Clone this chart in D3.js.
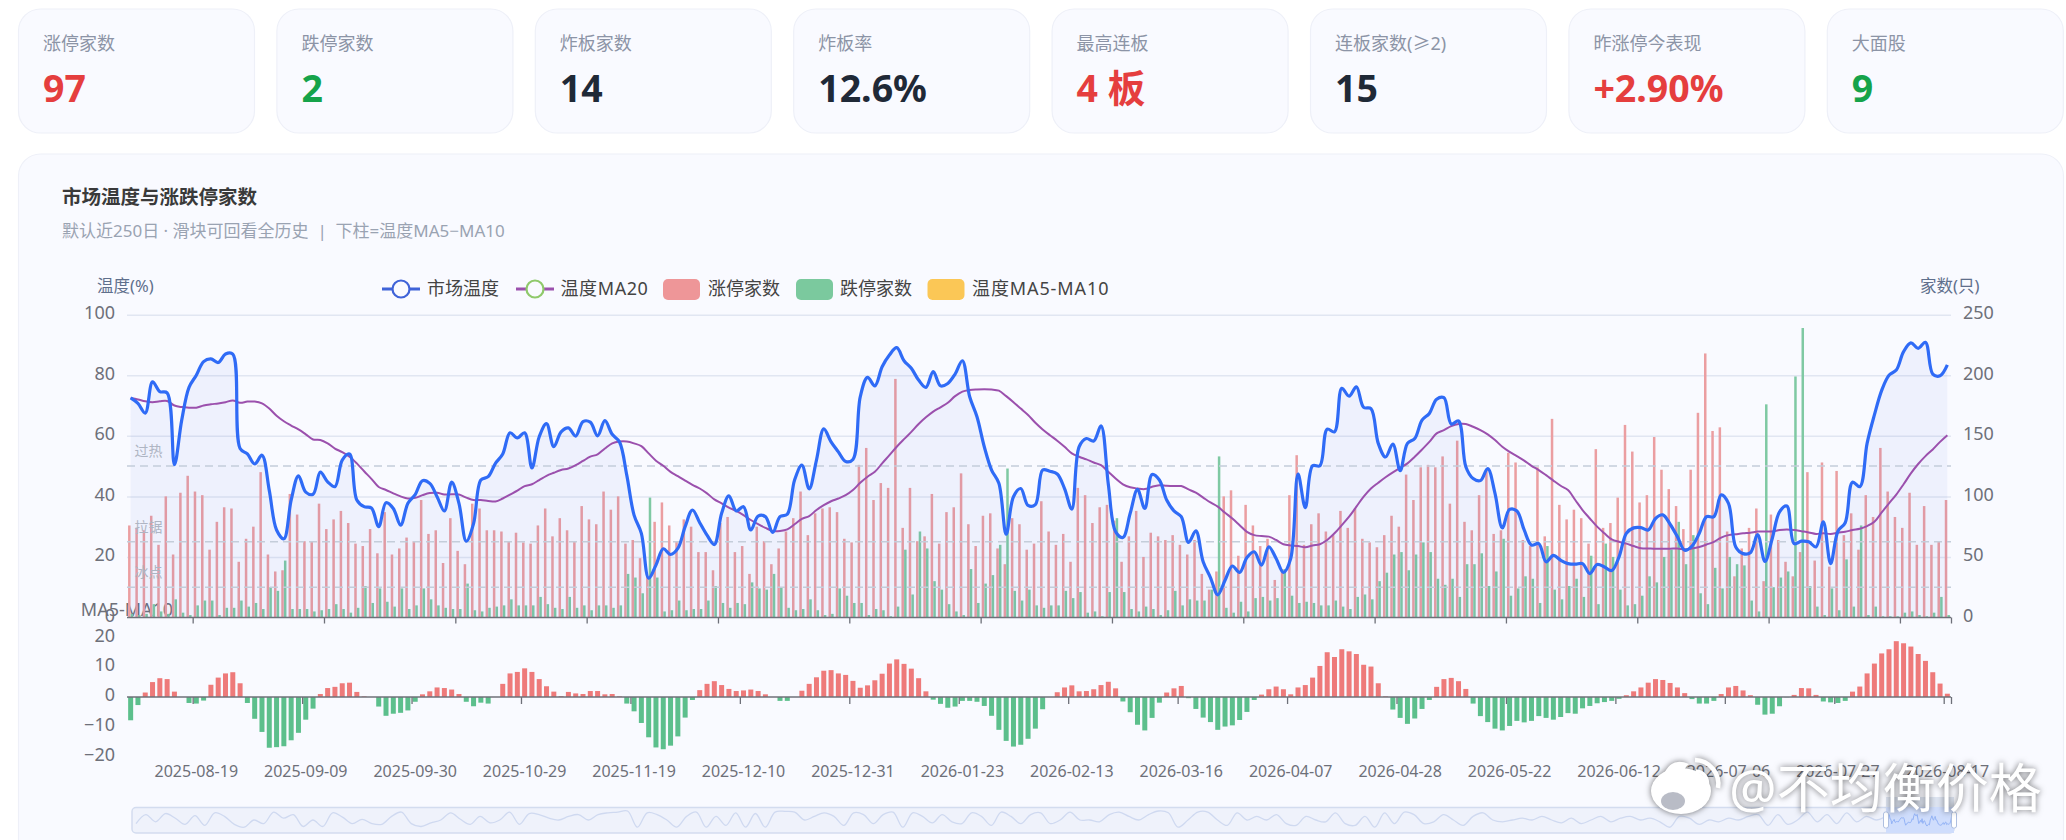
<!DOCTYPE html>
<html>
<head>
<meta charset="utf-8">
<title>市场温度与涨跌停家数</title>
<script src="https://cdnjs.cloudflare.com/ajax/libs/d3/7.8.5/d3.min.js"></script>
<style>
html, body { margin: 0; padding: 0; background: #fff; overflow: hidden; }
svg text { font-family: "Noto Sans", "Noto Sans CJK SC", sans-serif; }
.domain { display: none; }
</style>
</head>
<body>
<div id="chart"></div>
<script>
// top cards
var cardLabels = ["涨停家数", "跌停家数", "炸板家数", "炸板率", "最高连板", "连板家数(≥2)", "昨涨停今表现", "大面股"];
var cardValues = ["97", "2", "14", "12.6%", "4 板", "15", "+2.90%", "9"];
var cardKinds = ["up", "down", "flat", "flat", "up", "flat", "up", "down"];

// date labels of the lower axis, one every 15 sessions from session 9
var dateLabels = ["2025-08-19", "2025-09-09", "2025-09-30", "2025-10-29", "2025-11-19", "2025-12-10", "2025-12-31", "2026-01-23", "2026-02-13", "2026-03-16", "2026-04-07", "2026-04-28", "2026-05-22", "2026-06-12", "2026-07-06", "2026-07-27", "2026-08-17"];
var tempTicks = [0, 20, 40, 60, 80, 100];
var countTicks = [0, 50, 100, 150, 200, 250];
var histTicks = [-20, -10, 0, 10, 20];
var zones = [{ name: "过热", value: 50 }, { name: "拉锯", value: 25 }, { name: "冰点", value: 10 }];

var limitUp = [
  76,74,72,84,60,100,52,103,117,104,
  101,56,79,91,90,46,65,75,120,52,
  38,39,102,85,63,63,94,73,81,88,
  78,61,59,73,53,87,52,57,66,63,
  97,69,72,45,82,55,44,94,90,72,
  72,71,63,70,62,61,76,90,67,82,
  72,63,92,81,77,104,89,100,61,64,
  49,34,79,95,76,63,81,75,54,54,
  39,78,83,54,59,36,75,63,44,57,
  71,82,104,68,86,90,91,87,65,62,
  126,140,97,111,107,197,74,107,63,67,
  102,61,87,91,119,77,59,84,86,57,
  44,82,77,56,61,96,71,60,69,46,
  107,101,78,91,93,80,46,67,88,50,
  70,67,64,68,60,52,64,36,23,38,
  100,105,51,93,76,59,65,31,40,101,
  134,60,77,86,71,68,88,74,90,65,
  62,58,68,84,75,118,97,124,126,124,
  133,94,146,79,72,101,122,69,72,136,
  128,64,59,124,67,164,93,81,89,82,
  61,139,74,78,99,159,137,95,101,149,
  122,106,92,73,122,169,218,154,157,71,
  34,57,74,90,30,85,64,46,34,54,
  120,47,128,42,121,68,86,56,101,83,
  140,104,83,74,103,60,92,60,63,97];

var limitDown = [
  3,2,3,11,5,3,15,4,2,10,
  14,14,2,8,8,14,9,12,7,25,
  22,47,7,7,7,5,6,7,11,7,
  4,8,26,12,24,13,9,24,7,10,
  24,15,10,8,7,7,28,6,5,8,
  9,10,15,10,10,10,17,11,8,7,
  17,8,10,6,10,10,8,10,36,33,
  20,99,33,5,6,14,6,7,7,14,
  26,12,8,12,11,29,24,23,36,25,
  8,6,7,15,6,2,3,24,18,12,
  12,2,7,6,1,9,56,19,71,57,
  30,23,11,5,2,40,12,28,35,60,
  123,22,14,23,10,8,10,10,22,16,
  21,4,5,1,21,82,21,7,5,9,
  7,2,6,22,10,15,14,14,23,133,
  8,4,13,5,16,17,14,16,40,18,
  12,13,12,10,10,14,9,7,17,19,
  15,30,37,52,54,39,52,62,54,32,
  27,32,17,44,44,53,26,38,65,18,
  24,34,32,12,59,23,15,26,32,17,
  51,11,61,50,23,10,11,18,34,29,
  50,56,79,44,68,20,11,41,24,50,
  44,43,14,5,176,25,33,38,199,239,
  26,9,2,24,6,48,9,76,2,9,
  1,1,1,4,5,2,1,4,17,2];

var temp = [
  72.5,70.7,67.5,77.8,74.6,74.2,50.5,65.2,76,80,
  84.5,85.4,84.2,87,87,55.8,54,50.7,53.6,42,
  28.9,26,38.8,46.8,41.4,40.7,48,44.8,43.2,52,
  54,38.8,36.6,36.2,30,37.9,36,30.5,37.7,40.6,
  45.2,44.3,39.9,35.2,44.7,37.7,25.2,31,45.4,46.5,
  50.9,54,61,59.3,61,49.4,59.7,64,56.4,61.3,
  62.6,59.9,64.7,64.5,60,65,60.5,58,47,33.8,
  27.8,13,17.3,22.7,20.8,22.8,30,35.5,31.3,27.2,
  24.1,34.4,40.2,35.2,36.6,28.9,33.5,33.3,28.1,33.3,
  34.1,45.4,50.3,42.5,52,62.3,58,54.7,51.5,52.2,
  72.9,79.3,76.5,82.8,86.7,89.1,84.8,82.3,78.4,76,
  81.2,76.5,77.3,80.4,84.8,72.9,66.3,56.4,48.7,44.3,
  27.5,39.9,42.6,37,37.3,48.7,48.3,47.4,42.6,35.8,
  56.4,59.1,58.3,63.3,44,28.3,26.4,34.4,42.3,36,
  47.2,45.4,38.8,35.2,33.3,24.8,28.6,18.4,13.2,7.5,
  12.3,17,14.9,19.8,21.7,17.3,23.3,19.5,14.9,19.5,
  47.4,36.3,50.1,50.1,62.2,61.3,75.7,73.1,76.2,69.4,
  69,57.5,53,57.3,48.5,57.5,59.1,65.2,67.4,72.1,
  72.6,63.9,64.9,49.8,45.9,45.2,49.2,41,29.6,35.7,
  35.2,28.9,23.9,24.4,18.4,20.5,18.9,17.8,17.6,17.8,
  14.5,17.5,16.7,15.5,20,27.8,29.6,29.7,28.9,32.7,
  33.9,30.8,26.7,22.2,23.6,27.8,33.3,33.3,40.5,37.7,
  23.3,21.1,21.4,27.4,18.5,26.1,34.9,36.8,24.4,25.2,
  25,23.3,31.6,17.8,28.5,31.3,44.7,43.2,57.5,66.9,
  75,80,81.7,87.8,90.7,88.9,90.9,80.4,79.8,83.4];

var tempMa20 = [
  72.5,72,71.4,71.1,71.4,71.5,70,69.5,69.3,69.3,
  70,70.4,70.7,71.1,71.7,70.9,71.3,71.3,70.7,69,
  66.6,64.8,63.4,62.1,60.5,58.8,58.6,57.5,55.8,54.6,
  53.1,50.9,48.3,45.8,43.1,42.1,41,40,39.3,39.5,
  40.4,41.1,41.2,40.6,40.7,40.6,39.6,38.8,38.8,38.5,
  38.3,39.3,40.6,41.9,43.4,44,45.4,46.8,47.8,48.7,
  49.2,50.3,51.7,53.1,53.9,55.8,57.5,58.1,58.1,57.5,
  56.6,54.2,51.8,50.1,48.1,46.7,45.2,43.8,42.6,41,
  39,37.7,36.3,35.2,33.8,32.2,30.8,29.6,28.6,28.6,
  29.1,30.8,32.6,33.5,35.5,37.1,38.4,39.3,40.4,42.1,
  44.5,46.5,48.1,50.9,53.6,56.4,58.9,61.3,63.9,66.1,
  68,69.4,70.9,73.1,74.6,75.1,75.3,75.4,75.3,74.9,
  73.1,71.1,69,66.9,64.3,62.1,60.2,58.4,56.4,54.2,
  53.1,52.2,51.2,50.3,48.1,45.9,44,43,42.6,42.4,
  43.2,43.7,43.5,43.4,43.4,42.3,41.2,39.6,38,36.6,
  34.6,32.7,30.5,28.3,27.2,26.9,26.7,25.6,24.2,23.8,
  23.6,23.2,23.8,24.2,25.6,27.8,30.5,33.3,36.6,39.9,
  42.6,44.5,46.3,47.9,49.4,50.9,53.1,55.5,58,60.8,
  61.9,63.2,63.9,63.9,63,61.9,60.5,58.6,56.4,54.7,
  53.3,51.8,50.1,48.7,47,45.2,43.5,42.1,38.8,35.5,
  32.7,30,27.8,25.8,25,24.4,23.6,22.9,22.8,22.7,
  22.7,22.7,22.8,22.5,22.8,23.3,24.1,25,26.4,27.2,
  27.5,27.8,28,28.4,28.4,28.4,28.9,29.1,28.9,28.5,
  28.1,27.6,27.8,27.6,28,28.3,28.9,29.3,30.2,31.6,
  34.7,37.7,40.6,44,47.6,50.7,53.3,55.5,58,60.2];

var maDiff = [
  -7.8,-2.7,1.5,5,6.3,6,1.8,0,-2,-2.2,
  -1.2,4.1,6.5,7.9,8.3,4.6,-2,-7.3,-11.7,-17,
  -16.8,-16.5,-14.5,-12,-7.6,-3.9,1,3,3.4,4.6,
  4.8,1.7,0.2,0,-3.2,-6.3,-5.6,-5.3,-4.5,-1.6,
  0.9,1.9,3.2,3,2.5,1,-1.6,-3.1,-1.9,-2.2,
  0,4.4,7.9,8.4,9.6,8.4,6,3.6,1.8,0.3,
  1.7,1.2,1,2,2,0.9,1,0.2,-2.2,-4.8,
  -8.7,-13.5,-16.9,-17.5,-16.3,-13.2,-6.9,-1,2.3,4.4,
  5.3,4,2.7,2,2.2,2.5,2,0.9,0,-1.3,
  -1.3,0,2.1,4.4,6.6,8.8,9,7.9,7.4,5.4,
  3.1,3.9,5.6,7.8,11.2,12.6,11.1,9.5,6.3,1.9,
  -0.9,-2.3,-3.6,-3.2,-1.3,-1.3,-1.6,-3,-6.3,-11,
  -14.7,-16.6,-16,-14,-10.6,-4.1,0,1.6,3.2,3.9,
  1.9,2,2.6,4,5.1,2.9,-1.5,-5.1,-9.3,-11.2,
  -7,-1.9,1.5,2.9,3.7,-0.4,-4,-6.9,-8.4,-11,
  -9.9,-9.5,-7.7,-5,-1,0.8,2.6,3.5,2.6,0.9,
  3.2,4,6.5,10.4,15,13.4,16,15.3,14.4,10.8,
  10.2,4.6,0.2,-4.2,-7,-9,-7.2,-4,-1,3.4,
  6,6.4,5.3,2.7,-2.2,-6.4,-8.4,-10.6,-11.2,-9.7,
  -8,-8.5,-8,-6.4,-7,-7.6,-6.7,-5.4,-5.6,-3.8,
  -3,-2.1,-1.7,-1.3,-0.6,0.6,1.9,3.2,4.8,6,
  5.7,4.7,3.2,1.3,-0.7,-2.2,-2.2,-1.3,1,3.2,
  3.7,2.2,0.6,-2.6,-5.9,-5.6,-3.1,-0.1,0.7,3,
  2.9,0.7,-1.5,-1.8,-2,-1.3,1.8,3.5,7.9,11.2,
  14.6,16,18.7,18,16.9,14.4,12.1,8.3,4.5,1.1];

// full history under the slider, read at a coarse step
var sliderHistory = [
  30,80,40,86,60,26,74,20,90,70,26,10,50,30,94,60,80,14,50,14,90,66,30,54,30,26,70,94,30,14,34,50,90,54,26,70,34,50,94,26,86,80,60,50,70,80,50,
  80,90,94,100,10,90,80,50,10,70,94,10,70,20,90,10,86,10,94,98,94,50,70,90,70,20,90,80,30,80,94,10,90,70,34,80,40,30,90,70,20,94,70,30,80,90,30,50,94,50,
  50,40,80,94,70,50,80,100,90,10,50,94,94,50,20,90,50,70,50,80,30,20,70,50,40,90,30,20,70,10,90,30,94,80,30,40,80,50,20,70,90,50,40,50,60,50,70,50,34,60,
  30,50,70,40,60,70,50,60,40,10,70,60,26,50,40,60,50,70,80,20,80,26,50,94,40,80,30,90,40,70,50,70];

var sessions = d3.range(temp.length);
var left = 127, right = 1951;

var svg = d3.select("#chart").append("svg").attr("width", 2066).attr("height", 840);

// cards
var cardColor = { up: "#e53e3e", down: "#16a34a", flat: "#1f2937" };
var card = svg.selectAll("g.card").data(cardLabels).enter().append("g").attr("class", "card")
  .attr("transform", function (d, i) { return "translate(" + (18.5 + 258.4 * i) + ",9)"; });
card.append("rect").attr("width", 236).attr("height", 124).attr("rx", 22)
  .attr("fill", "#f9faff").attr("stroke", "#eef0f8").attr("stroke-width", 1.2);
card.append("text").attr("x", 24.5).attr("y", 41).attr("font-size", 18).attr("fill", "#8c94a6").text(function (d) { return d; });
card.append("text").attr("x", 24.5).attr("y", 92.5).attr("font-size", 37.5).attr("font-weight", 700)
  .attr("fill", function (d, i) { return cardColor[cardKinds[i]]; })
  .text(function (d, i) { return cardValues[i]; });

// chart panel
svg.append("rect").attr("x", 18.5).attr("y", 154).attr("width", 2045).attr("height", 720).attr("rx", 22)
  .attr("fill", "#f9faff").attr("stroke", "#eef0f8").attr("stroke-width", 1.2);
svg.append("text").attr("x", 62).attr("y", 204).attr("font-size", 19.5).attr("font-weight", 700).attr("fill", "#3a3a3a").text("市场温度与涨跌停家数");
svg.append("text").attr("x", 62).attr("y", 237).attr("font-size", 17).attr("fill", "#9aa3b2").text("默认近250日 · 滑块可回看全历史\u00a0\u00a0|\u00a0\u00a0下柱=温度MA5−MA10");
svg.append("text").attr("x", 97).attr("y", 292).attr("font-size", 16.5).attr("fill", "#5f6f8c").text("温度(%)");
svg.append("text").attr("x", 1920).attr("y", 292).attr("font-size", 16.5).attr("fill", "#5f6f8c").text("家数(只)");

// scales
var x = d3.scaleBand().domain(sessions).range([left, right]);
var edge = d3.scaleLinear().domain([0, temp.length]).range([left, right]);
var yTemp = d3.scaleLinear().domain([0, 100]).range([617.5, 314.7]);
var yCount = d3.scaleLinear().domain([0, 250]).range([617.5, 314.7]);
var yDiff = d3.scaleLinear().domain([-20, 20]).range([756.7, 637.3]);
var cx = function (i) { return x(i) + x.bandwidth() / 2; };

// grid and value axes
svg.append("g").attr("transform", "translate(" + left + ",0)")
  .call(d3.axisLeft(yTemp).tickValues(tempTicks.slice(1)).tickSize(left - right).tickFormat(""))
  .selectAll("line").attr("stroke", "#e1e6f2").attr("stroke-width", 1.5);

function styleLabels(g) {
  g.selectAll("line").remove();
  g.selectAll("text").attr("fill", "#6e7079").attr("font-size", 18);
}
svg.append("g").attr("transform", "translate(115,-2)")
  .call(d3.axisLeft(yTemp).tickValues(tempTicks).tickSize(0).tickPadding(0)).call(styleLabels);
svg.append("g").attr("transform", "translate(1963,-2)")
  .call(d3.axisRight(yCount).tickValues(countTicks).tickSize(0).tickPadding(0)).call(styleLabels);
svg.append("g").attr("transform", "translate(115,-2)")
  .call(d3.axisLeft(yDiff).tickValues(histTicks).tickSize(0).tickPadding(0)).call(styleLabels);
svg.append("text").attr("x", 127).attr("y", 616).attr("text-anchor", "middle").attr("font-size", 18).attr("fill", "#6e7079").text("MA5-MA10");

// limit up / down bars
svg.append("g").selectAll("rect").data(limitUp).enter().append("rect")
  .attr("x", function (d, i) { return cx(i) - 1.33 - 1.25; })
  .attr("y", function (d) { return yCount(d); })
  .attr("width", 2.5)
  .attr("height", function (d) { return yCount(0) - yCount(d); })
  .attr("fill", "#eb9ea1");
svg.append("g").selectAll("rect").data(limitDown).enter().append("rect")
  .attr("x", function (d, i) { return cx(i) + 1.33 - 1.25; })
  .attr("y", function (d) { return yCount(d); })
  .attr("width", 2.5)
  .attr("height", function (d) { return yCount(0) - yCount(d); })
  .attr("fill", "#7fc9a3");

// temperature area and lines
svg.append("path").datum(temp)
  .attr("d", d3.area().x(function (d, i) { return cx(i); }).y0(yTemp(0)).y1(function (d) { return yTemp(d); }).curve(d3.curveCatmullRom.alpha(0.5)))
  .attr("fill", "#2f5fd8").attr("fill-opacity", 0.055);

// threshold lines
svg.append("g").selectAll("line").data(zones).enter().append("line")
  .attr("x1", left).attr("x2", right)
  .attr("y1", function (d) { return yTemp(d.value); })
  .attr("y2", function (d) { return yTemp(d.value); })
  .attr("stroke", "#c4cdda").attr("stroke-width", 1.5).attr("stroke-dasharray", "8 5");
svg.append("g").selectAll("text").data(zones).enter().append("text")
  .attr("x", 134.5)
  .attr("y", function (d) { return yTemp(d.value) - 10; })
  .attr("font-size", 14).attr("fill", "#aeb5c3")
  .text(function (d) { return d.name; });

svg.append("path").datum(tempMa20)
  .attr("d", d3.line().x(function (d, i) { return cx(i); }).y(function (d) { return yTemp(d); }).curve(d3.curveCatmullRom.alpha(0.5)))
  .attr("fill", "none").attr("stroke", "#9b50ad").attr("stroke-width", 2);
svg.append("path").datum(temp)
  .attr("d", d3.line().x(function (d, i) { return cx(i); }).y(function (d) { return yTemp(d); }).curve(d3.curveCatmullRom.alpha(0.5)))
  .attr("fill", "none").attr("stroke", "#2f6bf6").attr("stroke-width", 3.2).attr("stroke-linejoin", "round");

// MA5-MA10 bars
svg.append("g").selectAll("rect").data(maDiff).enter().append("rect")
  .attr("x", function (d, i) { return cx(i) - 2.5; })
  .attr("y", function (d) { return d >= 0 ? yDiff(d) : yDiff(0); })
  .attr("width", 5)
  .attr("height", function (d) { return Math.abs(yDiff(d) - yDiff(0)); })
  .attr("fill", function (d) { return d >= 0 ? "#ee7a7a" : "#5cbf8c"; });

// category axes, ticks sit on band edges
var mainTicks = d3.range(9, temp.length, 18).concat([temp.length]);
var lowerTicks = d3.range(9, temp.length, 15).concat([temp.length]);
function styleEdge(g) {
  g.selectAll("line").attr("stroke", "#6e7079").attr("stroke-width", 1.3);
  g.selectAll("text").remove();
}
var edgeBase = svg.append("g");
edgeBase.append("line").attr("x1", left).attr("x2", right).attr("y1", yTemp(0)).attr("y2", yTemp(0)).attr("stroke", "#6e7079").attr("stroke-width", 1.5);
edgeBase.append("line").attr("x1", left).attr("x2", right).attr("y1", yDiff(0)).attr("y2", yDiff(0)).attr("stroke", "#6e7079").attr("stroke-width", 1.5);
svg.append("g").attr("transform", "translate(0," + yTemp(0) + ")")
  .call(d3.axisBottom(edge).tickValues(mainTicks).tickSize(6)).call(styleEdge);
svg.append("g").attr("transform", "translate(0," + yDiff(0) + ")")
  .call(d3.axisBottom(edge).tickValues(lowerTicks).tickSize(7)).call(styleEdge);
var labelled = d3.range(9, temp.length, 15);
svg.append("g").attr("transform", "translate(0,766)")
  .call(d3.axisBottom(x).tickValues(labelled).tickSize(0).tickPadding(0).tickFormat(function (d, i) { return dateLabels[i]; }))
  .call(function (g) { g.selectAll("text").attr("fill", "#6e7079").attr("font-size", 16); });

// legend
var legendLines = [
  { name: "市场温度", x: 382, textX: 427, line: "#3f63d8", ring: "#3f63d8", spacing: 0 },
  { name: "温度MA20", x: 516, textX: 560.5, line: "#9b50ad", ring: "#8fc96b", spacing: 0.6 }
];
var legendBoxes = [
  { name: "涨停家数", x: 663, textX: 708, fill: "#ee9698", spacing: 0 },
  { name: "跌停家数", x: 796, textX: 840, fill: "#7bc99e", spacing: 0 },
  { name: "温度MA5-MA10", x: 927.5, textX: 972, fill: "#fbc756", spacing: 0.9 }
];
var legendText = function (sel) {
  sel.append("text").attr("x", function (d) { return d.textX; }).attr("y", 295)
    .attr("font-size", 18).attr("fill", "#444")
    .attr("letter-spacing", function (d) { return d.spacing; })
    .text(function (d) { return d.name; });
};
var lg = svg.selectAll("g.ll").data(legendLines).enter().append("g").attr("class", "ll");
lg.append("line").attr("x1", function (d) { return d.x; }).attr("x2", function (d) { return d.x + 38; })
  .attr("y1", 289).attr("y2", 289).attr("stroke", function (d) { return d.line; }).attr("stroke-width", 3);
lg.append("circle").attr("cx", function (d) { return d.x + 19; }).attr("cy", 289).attr("r", 8.5)
  .attr("fill", "#f9faff").attr("stroke", function (d) { return d.ring; }).attr("stroke-width", 2.2);
legendText(lg);
var lb = svg.selectAll("g.lb").data(legendBoxes).enter().append("g").attr("class", "lb");
lb.append("rect").attr("x", function (d) { return d.x; }).attr("y", 279).attr("width", 37).attr("height", 21).attr("rx", 5)
  .attr("fill", function (d) { return d.fill; });
legendText(lb);

// data zoom slider
var sliderLeft = 132, sliderRight = 1954, sliderHandle = 1886;
svg.append("rect").attr("x", sliderLeft).attr("y", 807.5).attr("width", sliderRight - sliderLeft).attr("height", 25.5).attr("rx", 4)
  .attr("fill", "#eff2fb").attr("stroke", "#d3dcef").attr("stroke-width", 1.5);
var xHist = d3.scaleLinear().domain([0, sliderHistory.length - 1]).range([sliderLeft + 4, sliderHandle]);
var ySlide = d3.scaleLinear().domain([0, 100]).range([829, 811]);
svg.append("path").datum(sliderHistory)
  .attr("d", d3.line().x(function (d, i) { return xHist(i); }).y(function (d) { return ySlide(d); }).curve(d3.curveCatmullRom.alpha(0.5)))
  .attr("fill", "none").attr("stroke", "#cfd9f0").attr("stroke-width", 1.3);
svg.append("rect").attr("x", sliderHandle).attr("y", 797).attr("width", sliderRight - sliderHandle).attr("height", 10).attr("fill", "#dde4f1");
svg.append("rect").attr("x", sliderHandle).attr("y", 807).attr("width", sliderRight - sliderHandle).attr("height", 26).attr("fill", "#cfddfc");
var xWin = d3.scaleLinear().domain([0, temp.length - 1]).range([sliderHandle, sliderRight]);
var ySlideWin = d3.scaleLinear().domain([0, 100]).range([828, 812]);
svg.append("path").datum(temp.filter(function (d, i) { return i % 3 === 0; }))
  .attr("d", d3.line().x(function (d, i) { return xWin(i * 3); }).y(function (d) { return ySlideWin(d); }))
  .attr("fill", "none").attr("stroke", "#93b3f6").attr("stroke-width", 1);
svg.selectAll("rect.handle").data([sliderHandle, sliderRight]).enter().append("rect").attr("class", "handle")
  .attr("x", function (d) { return d - 2.5; }).attr("y", 812).attr("width", 5).attr("height", 16).attr("rx", 2)
  .attr("fill", "#fff").attr("stroke", "#aebfe0").attr("stroke-width", 1);

// watermark
var wm = svg.append("g").style("filter", "drop-shadow(0 0 3px rgba(0,0,0,0.55))");
wm.append("ellipse").attr("cx", 1681).attr("cy", 791).attr("rx", 30).attr("ry", 23).attr("fill", "#fff");
wm.append("path").attr("d", "M1663 776 q8 -20 26 -12 q-6 4 -5 12 z").attr("fill", "#fff");
wm.append("ellipse").attr("cx", 1673).attr("cy", 801).attr("rx", 12).attr("ry", 9).attr("fill", "#b9bcc6");
wm.append("path").attr("d", "M1695 760 a24 24 0 0 1 23 28").attr("fill", "none").attr("stroke", "#fff").attr("stroke-width", 4.5);
wm.append("path").attr("d", "M1696 771 a12 12 0 0 1 11 15").attr("fill", "none").attr("stroke", "#fff").attr("stroke-width", 3.5);
wm.append("text").attr("x", 1729).attr("y", 808).attr("font-size", 53).attr("fill", "#fff").attr("font-weight", 400).text("@不均衡价格");
</script>
</body>
</html>
